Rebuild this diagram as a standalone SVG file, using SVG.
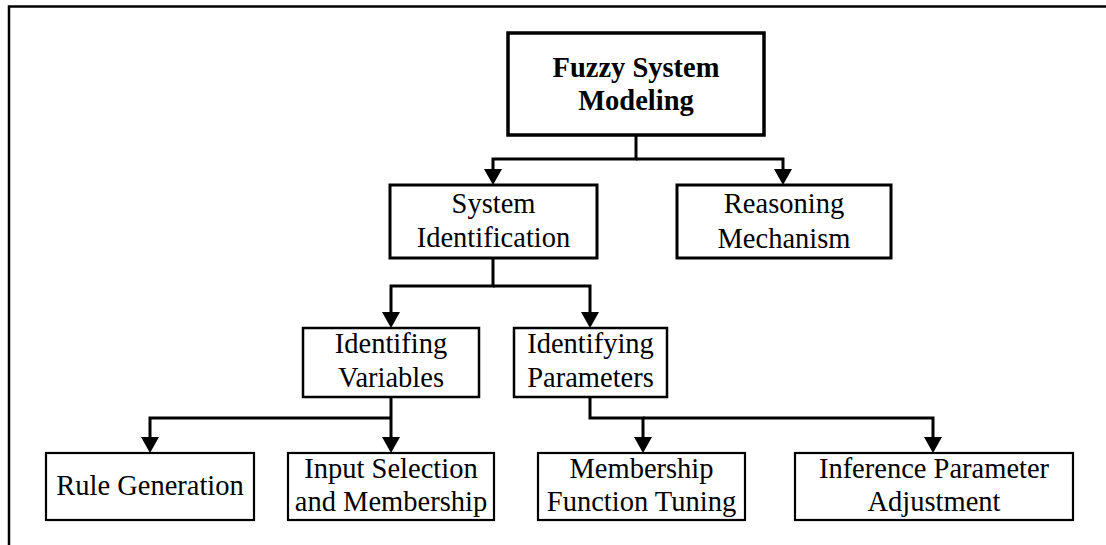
<svg xmlns="http://www.w3.org/2000/svg" width="1106" height="545" viewBox="0 0 1106 545">
  <style>
    .box { fill: #ffffff; stroke: #000000; }
    .b1 { stroke-width: 3.5; }
    .b2 { stroke-width: 3; }
    .b3 { stroke-width: 2.5; }
    .b4 { stroke-width: 2.2; }
    .lbl { font-family: "Liberation Serif", "Times New Roman", serif; font-size: 28.5px; fill: #000000; text-anchor: middle; }
    .bold { font-weight: bold; }
    .wire { fill: none; stroke: #000000; stroke-width: 3; stroke-linejoin: miter; marker-end: url(#head); }
    .frame { fill: none; stroke: #000000; stroke-width: 2.5; }
  </style>
  <defs>
    <marker id="head" viewBox="0 0 16 18" refX="0" refY="9" markerWidth="16" markerHeight="18" markerUnits="userSpaceOnUse" orient="auto">
      <path d="M0,0 L16,9 L0,18 Z" fill="#000000"/>
    </marker>
  </defs>

  <rect x="0" y="0" width="1106" height="545" fill="#ffffff"/>

  <!-- open frame: top and left edges only -->
  <path class="frame" d="M9,545 V6.5 H1106"/>

  <!-- connectors -->
  <g id="connectors">
    <path class="wire" d="M636,135 V159 H493 V169"/>
    <path class="wire" d="M636,159 H783 V169"/>
    <path class="wire" d="M493,258 V286 H391 V312"/>
    <path class="wire" d="M493,286 H590 V312"/>
    <path class="wire" d="M391,397 V437"/>
    <path class="wire" d="M391,418 H150 V437"/>
    <path class="wire" d="M590,397 V418 H643 V437"/>
    <path class="wire" d="M643,418 H933 V437"/>
  </g>

  <g id="fuzzy-system-modeling">
    <rect class="box b1" x="508" y="33" width="256" height="102"/>
    <text class="lbl bold" x="636" y="77">Fuzzy System</text>
    <text class="lbl bold" x="636" y="110">Modeling</text>
  </g>

  <g id="system-identification">
    <rect class="box b2" x="390" y="185" width="207" height="73"/>
    <text class="lbl" x="493.5" y="213">System</text>
    <text class="lbl" x="493.5" y="247">Identification</text>
  </g>

  <g id="reasoning-mechanism">
    <rect class="box b2" x="677" y="185" width="214" height="73"/>
    <text class="lbl" x="784" y="213">Reasoning</text>
    <text class="lbl" x="784" y="248">Mechanism</text>
  </g>

  <g id="identifing-variables">
    <rect class="box b3" x="303" y="328" width="176" height="69"/>
    <text class="lbl" x="391" y="353">Identifing</text>
    <text class="lbl" x="391" y="387">Variables</text>
  </g>

  <g id="identifying-parameters">
    <rect class="box b3" x="514" y="328" width="153" height="69"/>
    <text class="lbl" x="590.5" y="353">Identifying</text>
    <text class="lbl" x="590.5" y="387">Parameters</text>
  </g>

  <g id="rule-generation">
    <rect class="box b4" x="46" y="453" width="208" height="67"/>
    <text class="lbl" x="150" y="495">Rule Generation</text>
  </g>

  <g id="input-selection">
    <rect class="box b4" x="288" y="453" width="206" height="67"/>
    <text class="lbl" x="391" y="478">Input Selection</text>
    <text class="lbl" x="391" y="511">and Membership</text>
  </g>

  <g id="membership-tuning">
    <rect class="box b4" x="538" y="453" width="207" height="67"/>
    <text class="lbl" x="641.5" y="478">Membership</text>
    <text class="lbl" x="641.5" y="511">Function Tuning</text>
  </g>

  <g id="inference-adjustment">
    <rect class="box b4" x="795" y="453" width="278" height="67"/>
    <text class="lbl" x="934" y="478">Inference Parameter</text>
    <text class="lbl" x="934" y="511">Adjustment</text>
  </g>
</svg>
